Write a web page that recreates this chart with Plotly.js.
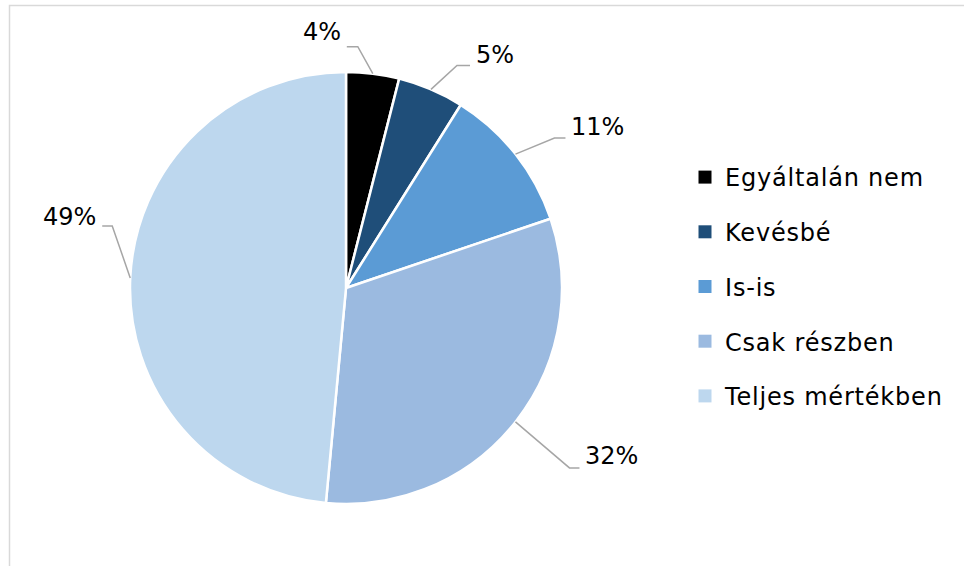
<!DOCTYPE html>
<html>
<head>
<meta charset="utf-8">
<script src="https://cdn.plot.ly/plotly-3.0.1.min.js"></script>
<style>html,body{margin:0;padding:0;background:#fff;}#chart{width:964px;height:566px;}
.legendtext{letter-spacing:0.8px;}</style>
</head>
<body>
<div id="chart"></div>
<script>
// ---- data ----
const categories = ['Egyáltalán nem', 'Kevésbé', 'Is-is', 'Csak részben', 'Teljes mértékben'];
const values = [4, 5, 11, 32, 49];
const valueLabels = ['4%', '5%', '11%', '32%', '49%'];

// ---- style ----
const colors = ['#000000', '#1F4E79', '#5B9BD5', '#9BBAE0', '#BDD7EE'];
const elbowOffset = [[-15, -27], [26, -24], [39, -16], [54, 46], [-18, -52]]; // px from slice edge
const tailLen = [-11, 13, 11, 10, -10];
const labelLift = [15, 10, 11, 12, 9];

const W = 964, H = 566;
const domX = [130 / W, 562 / W];
const domY = [1 - 504 / H, 1 - 72 / H];
const FONT = 'DejaVu Sans, sans-serif';

const cx = (domX[0] + domX[1]) / 2 * W;
const cy = (1 - (domY[0] + domY[1]) / 2) * H;
const R = Math.min((domX[1] - domX[0]) * W, (domY[1] - domY[0]) * H) / 2;

const px = x => x / W;
const py = y => 1 - y / H;

const total = values.reduce((a, b) => a + b, 0);
let cum = 0;
const shapes = [{
  type: 'rect', xref: 'paper', yref: 'paper',
  x0: px(9.5), x1: 1.05, y0: -0.05, y1: py(5.5),
  line: {color: '#D9D9D9', width: 1.5}, fillcolor: 'rgba(0,0,0,0)'
}];
const annotations = [];
values.forEach((v, i) => {
  const mid = (cum + v / 2) / total * 2 * Math.PI;
  cum += v;
  const ex = cx + R * Math.sin(mid), ey = cy - R * Math.cos(mid);
  const bx = ex + elbowOffset[i][0], by = ey + elbowOffset[i][1];
  const tx = bx + tailLen[i];
  shapes.push({
    type: 'path', xref: 'paper', yref: 'paper',
    path: `M ${px(ex)} ${py(ey)} L ${px(bx)} ${py(by)} L ${px(tx)} ${py(by)}`,
    line: {color: '#A6A6A6', width: 1.5}
  });
  const right = tailLen[i] > 0;
  annotations.push({
    xref: 'paper', yref: 'paper', x: px(tx), y: py(by),
    xanchor: right ? 'left' : 'right', yanchor: 'middle',
    xshift: right ? 4 : -4, yshift: labelLift[i],
    text: valueLabels[i], showarrow: false,
    font: {family: FONT, size: 24, color: '#000'}
  });
});

const traces = [{
  type: 'pie',
  values: values,
  labels: categories,
  sort: false,
  direction: 'clockwise',
  rotation: 0,
  textinfo: 'none',
  hoverinfo: 'label+percent',
  marker: {colors: colors, line: {color: '#FFFFFF', width: 2.5}},
  domain: {x: domX, y: domY},
  showlegend: false
}];
categories.forEach((c, i) => {
  traces.push({
    type: 'scatter', mode: 'markers', x: [null], y: [null],
    name: c, legendgroup: 'g' + i,
    marker: {symbol: 'square', size: 13, color: colors[i]},
    showlegend: true, hoverinfo: 'skip'
  });
});

const layout = {
  width: W, height: H,
  margin: {l: 0, r: 0, t: 0, b: 0},
  paper_bgcolor: '#fff', plot_bgcolor: '#fff',
  xaxis: {visible: false}, yaxis: {visible: false},
  showlegend: true,
  legend: {
    x: px(685), y: py(155), xanchor: 'left', yanchor: 'top',
    font: {family: FONT, size: 24, color: '#000'},
    tracegroupgap: 20.5, traceorder: 'grouped',
    bgcolor: 'rgba(0,0,0,0)'
  },
  shapes: shapes,
  annotations: annotations
};

Plotly.newPlot('chart', traces, layout, {displayModeBar: false, staticPlot: true});
</script>
</body>
</html>
